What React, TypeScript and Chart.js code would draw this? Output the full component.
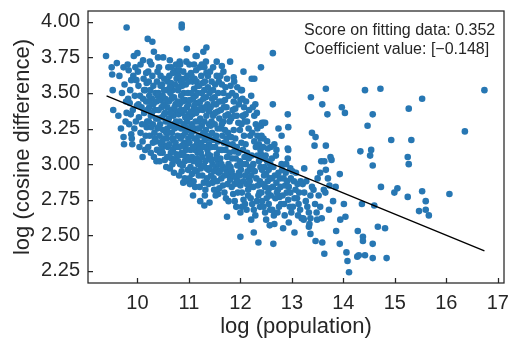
import { useEffect, useRef } from 'react';
import { Chart, registerables } from 'chart.js';

Chart.register(...registerables);

const xTicks = [10, 11, 12, 13, 14, 15, 16, 17];
const yTicks = [2.25, 2.5, 2.75, 3.0, 3.25, 3.5, 3.75, 4.0];
const xRange = [9.04, 17.12];
const yRange = [2.165, 4.076];
const fitX = [9.4, 16.74];
const fitY = [3.48, 2.39];
const xTitle = 'log (population)';
const yTitle = 'log (cosine difference)';
const scoreText = 'Score on fitting data: 0.352';
const coefText = 'Coefficient value: [\u22120.148]';

// [log(population), log(cosine difference)]
const samples: [number, number][] = [
  [12.63,3.78],[12.40,3.68],[12.27,3.60],[13.66,3.53],[14.42,3.52],[14.72,3.53],[16.74,3.52],[13.37,3.47],[15.53,3.46],[12.29,3.42],
  [12.63,3.42],[13.59,3.42],[13.97,3.40],[14.03,3.36],[15.27,3.39],[14.57,3.35],[12.92,3.35],[13.69,3.35],[14.47,3.27],[12.45,3.29],
  [12.40,3.27],[12.33,3.25],[12.93,3.26],[12.74,3.25],[16.36,3.23],[13.39,3.22],[13.46,3.19],[12.80,3.20],[12.45,3.18],[12.52,3.16],
  [14.93,3.17],[15.32,3.17],[12.66,3.14],[12.59,3.12],[12.53,3.11],[13.44,3.13],[13.66,3.13],[12.92,3.11],[12.93,3.10],[14.33,3.09],
  [14.54,3.10],[14.52,3.06],[15.25,3.05],[15.27,3.00],[14.57,2.99],[13.75,3.05],[13.77,3.03],[13.57,3.02],[13.63,3.02],[12.92,3.04],
  [12.40,3.07],[12.33,3.06],[13.24,2.97],[12.97,2.97],
  [14.73,2.84],[14.99,2.80],[15.05,2.83],[15.25,2.77],[15.53,2.81],[15.60,2.74],[16.06,2.79],[15.47,2.67],[15.60,2.68],[15.66,2.64],
  [14.60,2.71],[14.36,2.72],[14.01,2.72],[14.04,2.63],[13.94,2.61],[14.67,2.56],[14.81,2.55],[14.28,2.53],[14.38,2.49],[14.38,2.46],
  [14.57,2.44],[13.86,2.53],[13.93,2.44],[14.06,2.38],[14.08,2.32],[14.11,2.24],[14.27,2.35],[14.30,2.36],[14.42,2.36],[14.57,2.34],
  [14.84,2.34],[13.63,2.37],[13.46,2.46],[13.59,2.45],[13.36,2.51],[12.64,2.44],[12.35,2.45],[13.05,2.52],
  [12.00,2.49],[12.26,2.52],[12.21,2.61],[11.74,2.63],[12.00,2.66],[12.03,2.70],[12.50,2.61],[12.57,2.57],[12.83,2.55],[12.94,2.59],
  [11.77,2.74],[11.08,2.78],[11.22,2.74],[11.30,2.71],[11.40,2.73],[10.89,2.87],[11.57,2.79],[11.59,2.83],
  [9.39,3.76],[9.79,3.96],[10.86,3.98],[10.86,3.96],[10.20,3.88],[10.29,3.86],[10.96,3.81],[11.28,3.79],[11.34,3.82],[10.32,3.79],
  [9.50,3.68],[9.60,3.71],[9.51,3.63],[10.00,3.78],[9.93,3.76],[9.73,3.68],[9.52,3.52],[9.53,3.38],[9.63,3.34],[9.68,3.25],
  [9.73,3.19],[9.74,3.14],[9.90,3.14],[10.18,3.26],[12.22,3.60],[12.06,3.65],[11.80,3.72],[11.54,3.72],[11.87,3.61],
  [10.24,3.72],[10.11,3.73],[10.27,3.70],[10.40,3.75],[10.50,3.75],[10.63,3.73],[10.82,3.72],[10.60,3.68],[10.76,3.66],[10.01,3.65],
  [10.21,3.65],[10.39,3.65],[9.75,3.56],[9.88,3.59],[9.98,3.59],[9.88,3.21],[9.82,3.46],[9.85,3.43],
  [13.93,2.93],[13.55,2.94],[13.66,2.96],[13.73,2.85],[13.62,2.82],[13.33,2.56],[13.23,2.61],[13.36,2.62],[13.49,2.61],[11.15,3.76],
  [11.64,3.69],[12.03,3.52],[12.00,3.45],[12.05,3.34],[12.42,3.29],[12.48,3.29],[12.39,3.18],
  // 9.6 - 10.0
  [9.65,3.62],[9.70,3.50],[9.78,3.44],[9.77,3.30],[9.79,3.36],
  [9.83,3.66],[9.86,3.52],[9.91,3.38],[9.95,3.48],[9.97,3.30],[9.84,3.28],[9.92,3.62],[9.99,3.41],[9.87,3.35],[9.94,3.25],
  [9.81,3.70],[9.96,3.68],[9.89,3.18],
  // 10.0 - 10.2
  [10.02,3.55],[10.05,3.48],[10.08,3.40],[10.03,3.33],[10.06,3.22],[10.10,3.16],[10.12,3.60],[10.15,3.52],[10.17,3.44],[10.13,3.36],
  [10.19,3.30],[10.04,3.12],[10.09,3.28],[10.16,3.20],[10.11,3.46],[10.18,3.57],[10.02,3.42],[10.15,3.10],
  [10.19,3.38],[10.06,3.70],[10.13,3.52],[10.10,3.05],[10.17,3.64],
  // 10.2 - 10.4
  [10.22,3.58],[10.25,3.52],[10.28,3.46],[10.23,3.40],[10.26,3.34],[10.30,3.28],[10.33,3.22],[10.36,3.16],[10.38,3.10],[10.21,3.12],
  [10.24,3.20],[10.31,3.55],[10.35,3.50],[10.37,3.44],[10.34,3.38],[10.29,3.62],[10.38,3.58],[10.22,3.30],[10.27,3.26],
  [10.36,3.32],[10.39,3.25],[10.32,3.05],[10.26,3.08],[10.30,3.15],[10.37,3.02],[10.23,3.48],[10.28,3.36],[10.31,3.42],
  [10.39,3.48],[10.34,3.18],[10.21,3.44],
  // 10.4 - 10.6
  [10.42,3.68],[10.45,3.62],[10.48,3.56],[10.41,3.50],[10.44,3.45],[10.47,3.40],[10.52,3.35],[10.55,3.30],[10.58,3.25],[10.43,3.20],
  [10.46,3.14],[10.49,3.08],[10.53,3.03],[10.56,2.98],[10.59,3.12],[10.51,3.18],[10.54,3.46],[10.57,3.52],[10.44,3.28],[10.48,3.33],
  [10.41,3.38],[10.58,3.40],[10.52,3.60],[10.59,3.58],[10.43,3.02],[10.50,3.24],[10.53,3.13],[10.57,3.18],
  [10.45,3.55],[10.42,3.26],[10.49,3.48],[10.56,3.22],[10.51,3.42],[10.47,3.10],[10.58,3.05],[10.54,3.36],[10.40,3.32],[10.44,3.08],
  [10.59,3.30],[10.52,3.52],[10.48,3.16],
  // 10.6 - 10.8
  [10.62,3.62],[10.65,3.57],[10.68,3.52],[10.71,3.47],[10.74,3.42],[10.77,3.37],[10.61,3.32],[10.64,3.27],[10.67,3.22],[10.70,3.17],
  [10.73,3.12],[10.76,3.07],[10.79,3.02],[10.63,2.97],[10.66,3.04],[10.69,3.10],[10.72,3.25],[10.75,3.30],[10.78,3.20],[10.61,3.44],
  [10.64,3.50],[10.67,3.38],[10.70,3.34],[10.73,3.56],[10.76,3.60],[10.79,3.52],[10.62,3.14],[10.65,3.08],[10.68,3.00],[10.71,2.94],
  [10.74,3.15],[10.77,3.26],[10.60,3.22],[10.66,3.46],[10.72,3.40],[10.78,3.44],[10.63,3.54],[10.69,3.64],[10.75,3.70],[10.80,3.35],
  [10.64,3.36],[10.70,3.28],[10.77,3.12],[10.61,3.05],[10.73,3.03],[10.68,3.18],[10.79,3.62],[10.66,3.68],
  // 10.8 - 11.0
  [10.81,3.66],[10.84,3.60],[10.87,3.55],[10.90,3.50],[10.93,3.45],[10.96,3.40],[10.99,3.35],[10.82,3.30],[10.85,3.25],[10.88,3.20],
  [10.91,3.15],[10.94,3.10],[10.97,3.05],[10.83,3.00],[10.86,2.95],[10.92,2.90],[10.98,2.96],[10.81,3.12],[10.84,3.18],[10.87,3.36],
  [10.90,3.28],[10.93,3.22],[10.96,3.30],[10.99,3.18],[10.82,3.42],[10.85,3.48],[10.88,3.44],[10.91,3.38],[10.94,3.56],[10.97,3.62],
  [10.80,3.54],[10.83,3.70],[10.89,3.65],[10.95,3.72],[10.98,3.50],[10.86,3.08],[10.92,3.02],[10.95,3.14],[10.81,2.92],[10.87,3.13],
  [10.93,3.33],[10.99,3.42],[10.84,3.38],[10.90,3.06],[10.96,3.24],[10.88,2.99],[10.97,2.88],[10.85,3.58],[10.91,3.60],[10.94,3.26],
  [10.80,3.06],
  // 11.0 - 11.2
  [11.01,3.70],[11.04,3.64],[11.07,3.58],[11.10,3.53],[11.13,3.48],[11.16,3.43],[11.19,3.38],[11.02,3.33],[11.05,3.28],[11.08,3.23],
  [11.11,3.18],[11.14,3.13],[11.17,3.08],[11.00,3.03],[11.03,2.98],[11.06,2.93],[11.09,2.88],[11.12,2.84],[11.15,2.95],[11.18,3.00],
  [11.01,3.15],[11.04,3.20],[11.07,3.35],[11.10,3.40],[11.13,3.30],[11.16,3.25],[11.19,3.20],[11.02,3.45],[11.05,3.50],[11.08,3.46],
  [11.11,3.60],[11.14,3.66],[11.17,3.55],[11.00,3.58],[11.06,3.05],[11.12,3.10],[11.18,3.12],[11.03,3.10],[11.09,3.02],[11.15,3.04],
  [11.01,2.90],[11.11,2.96],[11.04,3.37],[11.14,3.36],[11.19,3.30],[11.07,3.26],[11.16,3.16],[11.10,3.70],[11.13,3.76],[11.05,3.62],
  [11.17,3.50],[11.00,3.24],[11.08,3.12],[11.12,3.42],[11.02,2.86],[11.19,2.92],[11.15,3.58],
  // 11.2 - 11.4
  [11.21,3.68],[11.24,3.62],[11.27,3.57],[11.30,3.52],[11.33,3.47],[11.36,3.42],[11.39,3.37],[11.22,3.32],[11.25,3.27],[11.28,3.22],
  [11.31,3.17],[11.34,3.12],[11.37,3.07],[11.20,3.02],[11.23,2.97],[11.26,2.92],[11.29,2.87],[11.32,2.82],[11.35,2.90],[11.38,2.96],
  [11.21,3.10],[11.24,3.15],[11.27,3.38],[11.30,3.30],[11.33,3.24],[11.36,3.20],[11.39,3.14],[11.22,3.44],[11.25,3.50],[11.28,3.46],
  [11.31,3.58],[11.34,3.64],[11.37,3.54],[11.20,3.55],[11.26,3.05],[11.32,3.02],[11.38,3.04],[11.23,3.08],[11.29,2.99],[11.35,2.97],
  [11.21,2.84],[11.31,2.78],[11.24,3.40],[11.34,3.34],[11.39,3.28],[11.27,3.20],[11.36,3.10],[11.30,3.68],[11.33,3.72],[11.25,3.70],
  [11.37,3.62],[11.20,3.25],[11.28,3.12],[11.32,3.40],[11.38,2.86],
  // 11.4 - 11.6
  [11.41,3.65],[11.44,3.58],[11.47,3.52],[11.50,3.47],[11.53,3.42],[11.56,3.37],[11.59,3.32],[11.42,3.27],[11.45,3.22],[11.48,3.17],
  [11.51,3.12],[11.54,3.07],[11.57,3.02],[11.40,2.97],[11.43,2.92],[11.46,2.87],[11.49,2.82],[11.52,2.78],[11.55,2.88],[11.58,2.94],
  [11.41,3.06],[11.44,3.12],[11.47,3.34],[11.50,3.28],[11.53,3.20],[11.56,3.16],[11.59,3.10],[11.42,3.40],[11.45,3.46],[11.48,3.42],
  [11.51,3.56],[11.54,3.62],[11.57,3.50],[11.40,3.50],[11.46,3.00],[11.52,2.98],[11.58,3.00],[11.43,3.03],[11.49,2.95],[11.55,2.96],
  [11.47,3.68],[11.51,3.36],[11.44,3.30],[11.56,3.25],[11.59,3.44],[11.41,3.18],[11.53,3.04],[11.48,2.90],[11.58,3.58],
  // 11.6 - 11.8
  [11.61,3.62],[11.64,3.56],[11.67,3.50],[11.70,3.45],[11.73,3.40],[11.76,3.35],[11.79,3.30],[11.62,3.25],[11.65,3.20],[11.68,3.15],
  [11.71,3.10],[11.74,3.05],[11.77,3.00],[11.60,2.95],[11.63,2.90],[11.66,2.85],[11.69,2.80],[11.72,2.76],[11.75,2.86],[11.78,2.92],
  [11.61,3.04],[11.64,3.10],[11.67,3.30],[11.70,3.24],[11.73,3.18],[11.76,3.14],[11.79,3.08],[11.62,3.38],[11.65,3.44],[11.68,3.40],
  [11.71,3.54],[11.74,3.60],[11.77,3.48],[11.66,2.98],[11.72,2.96],[11.78,2.98],[11.63,3.00],[11.69,2.92],[11.75,2.94],[11.67,3.65],
  [11.71,3.34],[11.64,3.28],[11.76,3.22],
  // 11.8 - 12.0
  [11.81,3.55],[11.84,3.50],[11.87,3.44],[11.90,3.39],[11.93,3.34],[11.96,3.29],[11.99,3.24],[11.82,3.19],[11.85,3.14],[11.88,3.09],
  [11.91,3.04],[11.94,2.99],[11.97,2.94],[11.80,2.89],[11.83,2.84],[11.86,2.79],[11.89,2.74],[11.92,2.70],[11.95,2.80],[11.98,2.86],
  [11.81,2.98],[11.84,3.04],[11.87,3.24],[11.90,3.18],[11.93,3.12],[11.96,3.08],[11.99,3.02],[11.82,3.32],[11.85,3.38],[11.88,3.34],
  [11.91,3.48],[11.94,3.54],[11.97,3.42],[11.86,2.92],[11.92,2.90],[11.98,2.92],[11.83,2.95],[11.89,2.86],[11.95,2.88],[11.88,3.58],
  // 12.0 - 12.2
  [12.01,3.52],[12.04,3.46],[12.07,3.40],[12.10,3.35],[12.13,3.30],[12.16,3.25],[12.19,3.20],[12.02,3.15],[12.05,3.10],[12.08,3.05],
  [12.11,3.00],[12.14,2.95],[12.17,2.90],[12.00,2.85],[12.03,2.80],[12.06,2.75],[12.09,2.72],[12.12,2.68],[12.15,2.78],[12.18,2.84],
  [12.01,2.96],[12.04,3.00],[12.07,3.20],[12.10,3.14],[12.13,3.08],[12.16,3.04],[12.19,2.98],[12.02,3.28],[12.05,3.34],[12.08,3.30],
  [12.11,3.44],[12.17,3.38],[12.06,2.88],[12.12,2.86],[12.18,2.88],[12.09,2.92],[12.15,2.82],
  // 12.2 - 12.4
  [12.21,3.48],[12.24,3.40],[12.27,3.34],[12.30,3.28],[12.33,3.20],[12.36,3.14],[12.39,3.10],[12.22,3.06],[12.25,3.00],[12.28,2.95],
  [12.31,2.90],[12.34,2.85],[12.37,2.80],[12.20,2.76],[12.23,2.72],[12.26,2.68],[12.29,2.64],[12.32,2.74],[12.35,2.78],[12.38,2.88],
  [12.21,2.92],[12.24,2.96],[12.27,3.16],[12.30,3.12],[12.36,3.02],[12.39,2.98],[12.23,3.22],[12.32,3.36],[12.38,2.70],[12.25,2.84],
  // 12.4 - 12.6
  [12.41,3.20],[12.44,3.04],[12.47,2.98],[12.50,2.93],[12.53,2.88],[12.56,2.83],[12.59,2.78],[12.42,2.74],[12.45,2.70],[12.48,2.66],
  [12.51,2.76],[12.54,2.80],[12.57,2.90],[12.43,2.86],[12.46,2.92],[12.49,3.06],[12.52,3.02],[12.55,2.96],[12.58,3.00],[12.42,2.96],
  [12.48,2.84],[12.55,2.72],[12.44,3.12],[12.58,2.68],[12.41,2.80],
  // 12.6 - 12.8
  [12.61,3.04],[12.64,2.98],[12.67,2.92],[12.70,2.87],[12.73,2.82],[12.76,2.77],[12.79,2.72],[12.62,2.68],[12.65,2.64],[12.68,2.76],
  [12.71,2.80],[12.74,2.94],[12.77,2.90],[12.80,3.00],[12.63,2.84],[12.69,3.06],[12.75,2.70],[12.66,2.58],[12.72,2.66],[12.78,2.84],
  [12.61,2.90],[12.70,3.10],
  // 12.8 - 13.0
  [12.81,2.96],[12.84,2.90],[12.87,2.85],[12.90,2.80],[12.93,2.75],[12.96,2.70],[12.99,2.66],[12.82,2.78],[12.85,2.72],[12.88,2.94],
  [12.91,2.88],[12.94,2.84],[12.97,2.80],[12.86,2.64],[12.98,2.90],[12.89,3.00],
  // 13.0 - 13.2
  [13.01,2.95],[13.04,2.88],[13.07,2.82],[13.10,2.76],[13.13,2.72],[13.16,2.68],[13.19,2.62],[13.02,2.70],[13.08,2.94],[13.11,2.86],
  [13.14,2.80],[13.17,2.88],[13.05,2.76],[13.12,2.64],
  // 13.2 - 14.0
  [13.21,2.86],[13.24,2.80],[13.27,2.74],[13.30,2.70],[13.33,2.66],[13.36,2.78],[13.39,2.84],[13.22,2.62],[13.28,2.88],[13.34,2.58],
  [13.42,2.82],[13.45,2.72],[13.48,2.66],[13.52,2.78],[13.55,2.70],[13.50,2.90],[13.58,2.62],
  [13.65,2.80],[13.72,2.68],[13.80,2.74],[13.70,2.90],[13.85,2.84],
];

const FONT = '"Liberation Sans", Arial, Helvetica, sans-serif';
const INK = '#262626';

export default function App() {
  const ref = useRef<HTMLCanvasElement>(null);

  useEffect(() => {
    if (!ref.current) return;

    const framePlugin = {
      id: 'frameTicks',
      afterDraw(chart: any) {
        const { ctx, chartArea } = chart;
        const { left, right, top, bottom } = chartArea;
        ctx.save();
        ctx.strokeStyle = INK;
        ctx.lineWidth = 1.25;
        ctx.strokeRect(left, top, right - left, bottom - top);
        const xs = chart.scales.x;
        const ys = chart.scales.y;
        ctx.beginPath();
        xTicks.forEach((v) => {
          const p = Math.round(xs.getPixelForValue(v)) + 0.5;
          ctx.moveTo(p, bottom);
          ctx.lineTo(p, bottom - 5);
        });
        yTicks.forEach((v) => {
          const p = Math.round(ys.getPixelForValue(v)) + 0.5;
          ctx.moveTo(left, p);
          ctx.lineTo(left + 5, p);
        });
        ctx.stroke();
        ctx.fillStyle = INK;
        ctx.font = `16px ${FONT}`;
        ctx.textAlign = 'left';
        ctx.textBaseline = 'middle';
        ctx.fillText(scoreText, left + 216, top + 20);
        ctx.fillText(coefText, left + 216, top + 39);
        ctx.restore();
      },
    };

    const chart = new Chart(ref.current, {
      type: 'scatter',
      data: {
        datasets: [
          {
            type: 'line',
            data: fitX.map((x, i) => ({ x, y: fitY[i] })),
            borderColor: '#000000',
            borderWidth: 1.3,
            pointRadius: 0,
            fill: false,
            order: 0,
          } as any,
          {
            type: 'scatter',
            data: samples.map(([x, y]) => ({ x, y })),
            backgroundColor: '#2777b3',
            borderWidth: 0,
            pointRadius: 3.3,
            pointHoverRadius: 3.3,
            order: 1,
          },
        ],
      },
      options: {
        animation: false,
        responsive: true,
        maintainAspectRatio: false,
        events: [],
        layout: { padding: { top: 11, right: 4, left: 0, bottom: 0 } },
        plugins: { legend: { display: false }, tooltip: { enabled: false } },
        scales: {
          x: {
            type: 'linear',
            min: xRange[0],
            max: xRange[1],
            afterBuildTicks: (s: any) => {
              s.ticks = xTicks.map((v) => ({ value: v }));
            },
            afterFit: (s: any) => {
              s.height = 58;
              s.paddingLeft = 0;
              s.paddingRight = 0;
            },
            grid: { display: false, drawTicks: false },
            border: { display: false },
            ticks: {
              autoSkip: false,
              maxRotation: 0,
              padding: 8,
              color: INK,
              font: { size: 20, family: FONT },
              callback: (v: any) => String(v),
            },
            title: {
              display: true,
              text: xTitle,
              color: INK,
              font: { size: 22, family: FONT },
              padding: { top: 0, bottom: 1 },
            },
          },
          y: {
            type: 'linear',
            min: yRange[0],
            max: yRange[1],
            afterBuildTicks: (s: any) => {
              s.ticks = yTicks.map((v) => ({ value: v }));
            },
            afterFit: (s: any) => {
              s.width = 88;
              s.paddingTop = 0;
              s.paddingBottom = 0;
            },
            grid: { display: false, drawTicks: false },
            border: { display: false },
            ticks: {
              autoSkip: false,
              padding: 8,
              color: INK,
              font: { size: 20, family: FONT },
              callback: (v: any) => Number(v).toFixed(2),
            },
            title: {
              display: true,
              text: yTitle,
              color: INK,
              font: { size: 22, family: FONT },
              padding: { top: 10, bottom: 0 },
            },
          },
        },
      },
      plugins: [framePlugin],
    });

    return () => chart.destroy();
  }, []);

  return (
    <div style={{ position: 'fixed', left: 0, top: 0, width: 508, height: 341 }}>
      <canvas ref={ref} />
    </div>
  );
}
